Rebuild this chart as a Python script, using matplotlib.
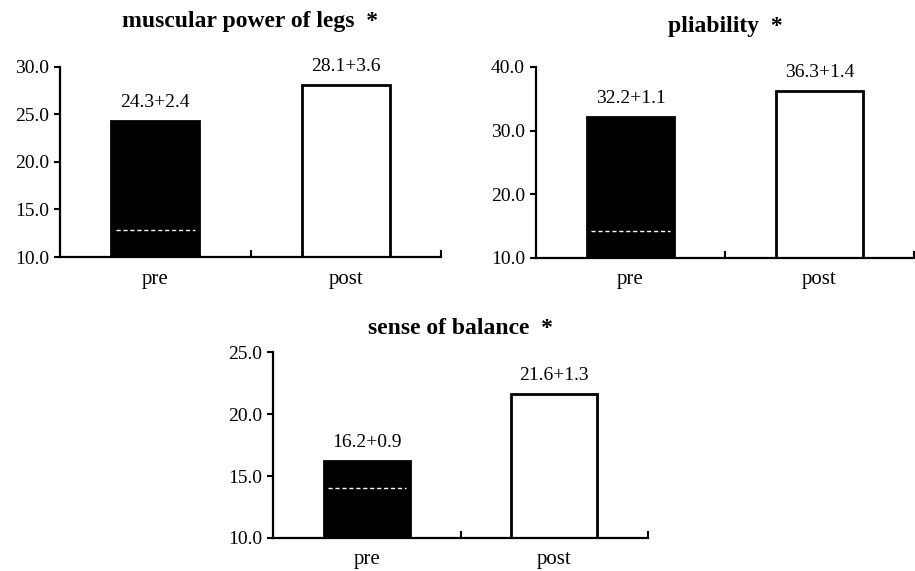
import numpy as np
import matplotlib.pyplot as plt
from matplotlib.ticker import FormatStrFormatter

plt.rcParams['font.family'] = ['Liberation Serif', 'DejaVu Serif']

# data
titles = ['muscular power of legs  *', 'pliability  *', 'sense of balance  *']
groups = ['pre', 'post']
means = [[24.3, 28.1], [32.2, 36.3], [16.2, 21.6]]
sds = [[2.4, 3.6], [1.1, 1.4], [0.9, 1.3]]
y_ranges = [(10, 30, 5), (10, 40, 10), (10, 25, 5)]
# faint white dashed line visible inside the pre bars
pre_marks = [12.8, 14.3, 14.0]

# axes boxes in figure fractions [left, bottom, width, height]
boxes = [[0.0656, 0.5499, 0.4164, 0.3328],
         [0.5858, 0.5482, 0.4131, 0.3345],
         [0.2984, 0.0578, 0.4098, 0.3257]]
title_pads = [29, 25, 13]

fig = plt.figure(figsize=(9.15, 5.71), dpi=100)

for i in range(3):
    ax = fig.add_axes(boxes[i])
    xpos = np.arange(len(groups)) + 0.5
    width = 0.46
    ax.bar(xpos, means[i], width=width, bottom=0, color=['black', 'white'],
           edgecolor='black', linewidth=2, zorder=2)
    ax.hlines(pre_marks[i], xpos[0] - width * 0.45, xpos[0] + width * 0.45,
              colors='white', linestyles=(0, (3, 2)), linewidth=1, zorder=3)
    for x, m, s in zip(xpos, means[i], sds[i]):
        ax.annotate('%.1f+%.1f' % (m, s), (x, m), xytext=(0, 7),
                    textcoords='offset points', ha='center', va='bottom',
                    fontsize=14)

    lo, hi, step = y_ranges[i]
    ax.set_ylim(lo, hi)
    ax.set_yticks(np.arange(lo, hi + 0.01, step))
    ax.yaxis.set_major_formatter(FormatStrFormatter('%.1f'))
    ax.set_xlim(0, 2)
    ax.set_xticks(xpos)
    ax.set_xticklabels(groups)
    ax.set_xticks([1, 2], minor=True)
    ax.tick_params(axis='x', which='major', length=0, pad=9, labelsize=15)
    ax.tick_params(axis='x', which='minor', direction='in', length=5, width=1.5)
    ax.tick_params(axis='y', direction='out', length=4, width=1.5, pad=4,
                   labelsize=14)

    for side in ['top', 'right']:
        ax.spines[side].set_visible(False)
    for side in ['left', 'bottom']:
        ax.spines[side].set_linewidth(1.6)

    ax.set_title(titles[i], fontsize=17, fontweight='bold', pad=title_pads[i])

fig.savefig('out.png', dpi=100)
